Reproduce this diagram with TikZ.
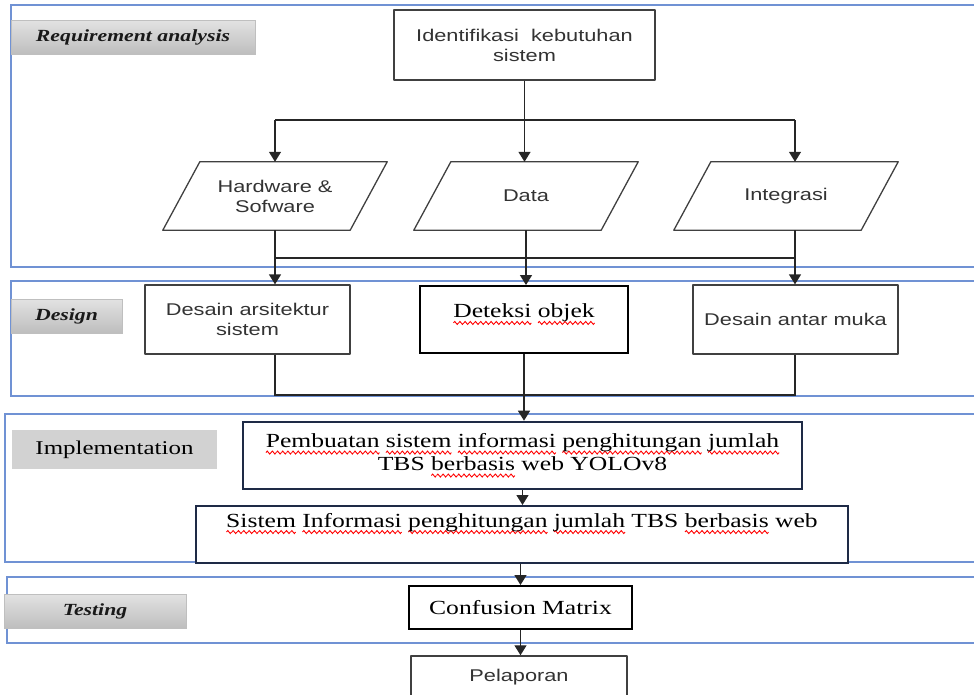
\documentclass[tikz,border=0pt]{standalone}
\usepackage{fontspec}
\usetikzlibrary{arrows.meta}
\setmainfont{Liberation Serif}
\newfontfamily\flowsans{Liberation Sans}[FakeStretch=1.28]
\newfontfamily\flowserif{Liberation Serif}[FakeStretch=1.28]
\definecolor{frameblue}{RGB}{112,146,212}
\definecolor{boxnavy}{RGB}{30,42,70}
\definecolor{tagtop}{RGB}{226,226,226}
\definecolor{tagbot}{RGB}{190,190,190}
\definecolor{tagflat}{RGB}{210,210,210}
% red wavy spell-check line under a word
\newsavebox\wavebox
\newsavebox\typobox
\AtBeginDocument{\sbox\wavebox{\begin{pgfpicture}
  \pgfpathmoveto{\pgfpoint{0pt}{0pt}}
  \pgfpathsine{\pgfpoint{1.25pt}{1.5pt}}\pgfpathcosine{\pgfpoint{1.25pt}{-1.5pt}}
  \pgfpathsine{\pgfpoint{1.25pt}{-1.5pt}}\pgfpathcosine{\pgfpoint{1.25pt}{1.5pt}}
  \pgfsetlinewidth{0.9pt}\pgfsetstrokecolor{red}\pgfusepath{stroke}
  \pgfresetboundingbox
  \pgfpathrectangle{\pgfpoint{0pt}{-2pt}}{\pgfpoint{5pt}{4pt}}\pgfusepath{use as bounding box}
  \pgfsetbaseline{0pt}
\end{pgfpicture}}}
\newcommand{\typo}[1]{\sbox\typobox{#1}\rlap{\lower5pt\hbox to\wd\typobox{\xleaders\copy\wavebox\hfil}}\usebox\typobox}
% half of the horizontal offset of a slanted box
\def\slantoff{18.5}
\newcommand{\slantframe}[1]{%
  \draw[shapeline] ([xshift=\slantoff]#1.north west) -- ([xshift=\slantoff]#1.north east)
    -- ([xshift=-\slantoff]#1.south east) -- ([xshift=-\slantoff]#1.south west) -- cycle;}
\tikzset{
  phaseframe/.style={draw=frameblue, line width=1.6pt},
  phasetag/.style={draw=black!25, top color=tagtop, bottom color=tagbot, inner sep=0pt,
    text=black!90, font=\flowserif\fontsize{17}{20}\selectfont\bfseries\itshape},
  shapeline/.style={draw=black!75, line width=1.3pt, line join=round},
  sansbox/.style={shapeline, fill=white, align=center, inner sep=2pt,
    text=black!80, font=\flowsans\fontsize{17}{20}\selectfont},
  serifbox/.style={draw=black, line width=2pt, fill=white, align=center, inner sep=2pt,
    font=\flowserif\fontsize{20}{23}\selectfont},
  slanted/.style={align=center, inner sep=2pt, minimum width=187, minimum height=68,
    text=black!80, font=\flowsans\fontsize{17}{20}\selectfont},
  link/.style={draw=black!85, line width=1.4pt},
  arr/.style={link, -{Triangle[width=12pt,length=10pt]}},
}
\begin{document}
\begin{tikzpicture}[x=1pt, y=-1pt]
\useasboundingbox (0,0) rectangle (974,694);
\clip (0,0) rectangle (974,694);
% Phase frames
\draw[phaseframe] (11,5) rectangle (990,267);
\draw[phaseframe] (11,281) rectangle (990,396);
\draw[phaseframe] (5,414) rectangle (990,562);
\draw[phaseframe] (7,577) rectangle (990,643);
% Phase labels
\node[phasetag, minimum width=244, minimum height=34] (tagreq) at (133,37) {Requirement analysis};
\node[phasetag, minimum width=111, minimum height=34] (tagdes) at (66.5,316) {Design};
\node[fill=tagflat, inner sep=0pt, minimum width=205, minimum height=39,
  font=\flowserif\fontsize{19.5}{23}\selectfont] (tagimp) at (114.5,449.5) {Implementation};
\node[phasetag, minimum width=182, minimum height=34] (tagtest) at (95,611) {Testing};
% Requirement analysis
\node[sansbox, minimum width=261, minimum height=70] (ident) at (524.5,45) {Identifikasi~ kebutuhan\\sistem};
\node[slanted] (hw) at (275,196) {Hardware \&\\Sofware};
\node[slanted] (data) at (526,196) {Data};
\node[slanted] (integ) at (786,196) {Integrasi};
\slantframe{hw}
\slantframe{data}
\slantframe{integ}
% Design
\node[sansbox, minimum width=205, minimum height=69] (arsi) at (247.5,319.5) {Desain arsitektur\\sistem};
\node[serifbox, minimum width=208, minimum height=67] (deteksi) at (524,319.5) {\typo{Deteksi} \typo{objek}\\[-14pt]\strut};
\node[sansbox, minimum width=205, minimum height=69] (muka) at (795.5,319.5) {Desain antar muka};
% Implementation
\node[serifbox, draw=boxnavy, line width=2.6pt, minimum width=559, minimum height=67] (pemb) at (522.5,455.5)
  {\typo{Pembuatan} \typo{sistem} \typo{informasi} \typo{penghitungan} \typo{jumlah}\\TBS \typo{berbasis} web YOLOv8};
\node[serifbox, draw=boxnavy, minimum width=652, minimum height=57] (sistem) at (522,534.5)
  {\typo{Sistem} \typo{Informasi} \typo{penghitungan} \typo{jumlah} TBS \typo{berbasis} web\\[-2pt]\strut};
% Testing
\node[serifbox, minimum width=223, minimum height=43] (conf) at (520.5,607.5) {Confusion Matrix};
\node[sansbox, line width=1.5pt, minimum width=216, minimum height=42] (lapor) at (519,677) {Pelaporan};
% Connectors
\coordinate (splitL) at (275,120);
\coordinate (splitR) at (795,120);
\coordinate (joinL) at (275,258);
\coordinate (joinR) at (795,258);
\coordinate (mergeL) at (275,395);
\coordinate (mergeR) at (795,395);
\draw[link] (splitL) -- (splitR);
\draw[arr] (ident.south) -- (ident.south |- data.north);
\draw[arr] (splitL) -- (hw.north);
\draw[arr] (splitR) -- (splitR |- integ.north);
\draw[link] (joinL) -- (joinR);
\draw[arr] (hw.south) -- (hw.south |- arsi.north);
\draw[arr] (data.south) -- (data.south |- deteksi.north);
\draw[arr] (joinR |- integ.south) -- (joinR |- muka.north);
\draw[link] (mergeL |- arsi.south) -- (mergeL) -- (mergeR) -- (mergeR |- muka.south);
\draw[arr] (deteksi.south) -- (deteksi.south |- pemb.north);
\draw[arr] (pemb.south) -- (pemb.south |- sistem.north);
\draw[arr] (conf.north |- sistem.south) -- (conf.north);
\draw[arr] (conf.south) -- (conf.south |- lapor.north);
\end{tikzpicture}
\end{document}
